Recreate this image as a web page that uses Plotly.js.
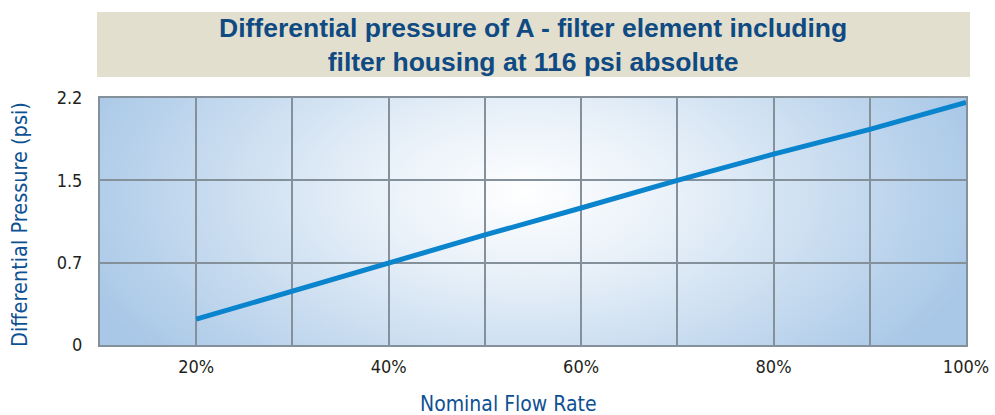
<!DOCTYPE html>
<html>
<head>
<meta charset="utf-8">
<script src="https://cdn.plot.ly/plotly-3.0.1.min.js"></script>
<style>
  html, body { margin: 0; padding: 0; background: #ffffff; }
  #chart { width: 995px; height: 415px; }
</style>
</head>
<body>
<div id="chart"></div>
<script>
// Data
const flowRate = [20, 30, 40, 50, 60, 70, 80, 90, 100];           // Nominal flow rate (%)
const pressure = [0.23, 0.48, 0.733, 0.98, 1.22, 1.467, 1.70, 1.92, 2.16]; // psi (axis scale)
const xTickVals = [20, 30, 40, 50, 60, 70, 80, 90, 100];
const xTickText = ['20%', '', '40%', '', '60%', '', '80%', '', '100%'];
const yTickVals = [0, 2.2 / 3, 4.4 / 3, 2.2];
const yTickText = ['0', '0.7', '1.5', '2.2'];
const titleText = 'Differential pressure of A - filter element including<br>filter housing at 116 psi absolute';
const xTitle = 'Nominal Flow Rate';
const yTitle = 'Differential Pressure (psi)';

// Background gradient image (radial, white centre, blue edges)
function makeGradient() {
  const c = document.createElement('canvas');
  c.width = 866; c.height = 247;
  const ctx = c.getContext('2d');
  const k = 247 / 866 * 1.9;
  ctx.save();
  ctx.scale(1, k);
  const cx = 425, cy = 95 / k;
  const g = ctx.createRadialGradient(cx, cy, 0, cx, cy, 470);
  g.addColorStop(0, '#ffffff');
  g.addColorStop(0.35, '#e6eff8');
  g.addColorStop(1, '#a9c8e7');
  ctx.fillStyle = g;
  ctx.fillRect(0, 0, 866, 866 / k);
  ctx.restore();
  return c.toDataURL('image/png');
}

const narrow = '"Liberation Sans Narrow", "Arial Narrow", "DejaVu Sans Condensed", sans-serif';
const PW = 866, PH = 247, ML = 100, MT = 98;
function px(x) { return (x - ML) / PW; }
function py(y) { return 1 - (y - MT) / PH; }

const trace = {
  x: flowRate,
  y: pressure,
  type: 'scatter',
  mode: 'lines',
  line: { color: '#0a84cc', width: 5 },
  hoverinfo: 'skip'
};

const gridCol = '#84919b';

const layout = {
  width: 995,
  height: 415,
  margin: { l: 100, r: 29, t: 98, b: 70 },
  paper_bgcolor: '#ffffff',
  plot_bgcolor: 'rgba(0,0,0,0)',
  showlegend: false,
  xaxis: {
    range: [10, 100],
    tickvals: xTickVals,
    ticktext: xTickText,
    showgrid: true,
    gridcolor: gridCol,
    gridwidth: 2,
    zeroline: false,
    showline: true,
    mirror: true,
    linecolor: gridCol,
    linewidth: 2,
    ticks: '',
    ticklabelstandoff: 4,
    tickfont: { family: narrow, size: 18, color: '#231f20' },
    fixedrange: true
  },
  yaxis: {
    range: [0, 2.2],
    tickvals: yTickVals,
    ticktext: yTickText,
    showgrid: true,
    gridcolor: gridCol,
    gridwidth: 2,
    zeroline: false,
    showline: true,
    mirror: true,
    linecolor: gridCol,
    linewidth: 2,
    ticks: '',
    ticklabelstandoff: 12,
    tickfont: { family: narrow, size: 18, color: '#231f20' },
    fixedrange: true
  },
  shapes: [{
    type: 'rect', xref: 'paper', yref: 'paper',
    x0: px(97), x1: px(970),
    y0: py(77), y1: py(12),
    fillcolor: '#e2dfce', line: { width: 0 }, layer: 'below'
  }],
  annotations: [{
    xref: 'paper', yref: 'paper',
    x: px(533), y: py(45),
    xanchor: 'center', yanchor: 'middle',
    text: '<b>' + titleText + '</b>',
    showarrow: false,
    font: { family: 'Arial, "Liberation Sans", sans-serif', size: 26.5, color: '#0f4a82' },
    align: 'center'
  }, {
    xref: 'paper', yref: 'paper',
    x: px(508), y: py(404),
    xanchor: 'center', yanchor: 'middle',
    text: xTitle,
    showarrow: false,
    font: { family: narrow, size: 21, color: '#0e5193' }
  }, {
    xref: 'paper', yref: 'paper',
    x: px(19), y: py(225),
    xanchor: 'center', yanchor: 'middle',
    textangle: -90,
    text: yTitle,
    showarrow: false,
    font: { family: narrow, size: 21.5, color: '#0e5193' }
  }],
  images: [{
    source: makeGradient(),
    xref: 'paper', yref: 'paper',
    x: 0, y: 1, sizex: 1, sizey: 1,
    sizing: 'stretch', xanchor: 'left', yanchor: 'top',
    layer: 'below'
  }]
};

Plotly.newPlot('chart', [trace], layout, { displayModeBar: false, staticPlot: true });
</script>
</body>
</html>
